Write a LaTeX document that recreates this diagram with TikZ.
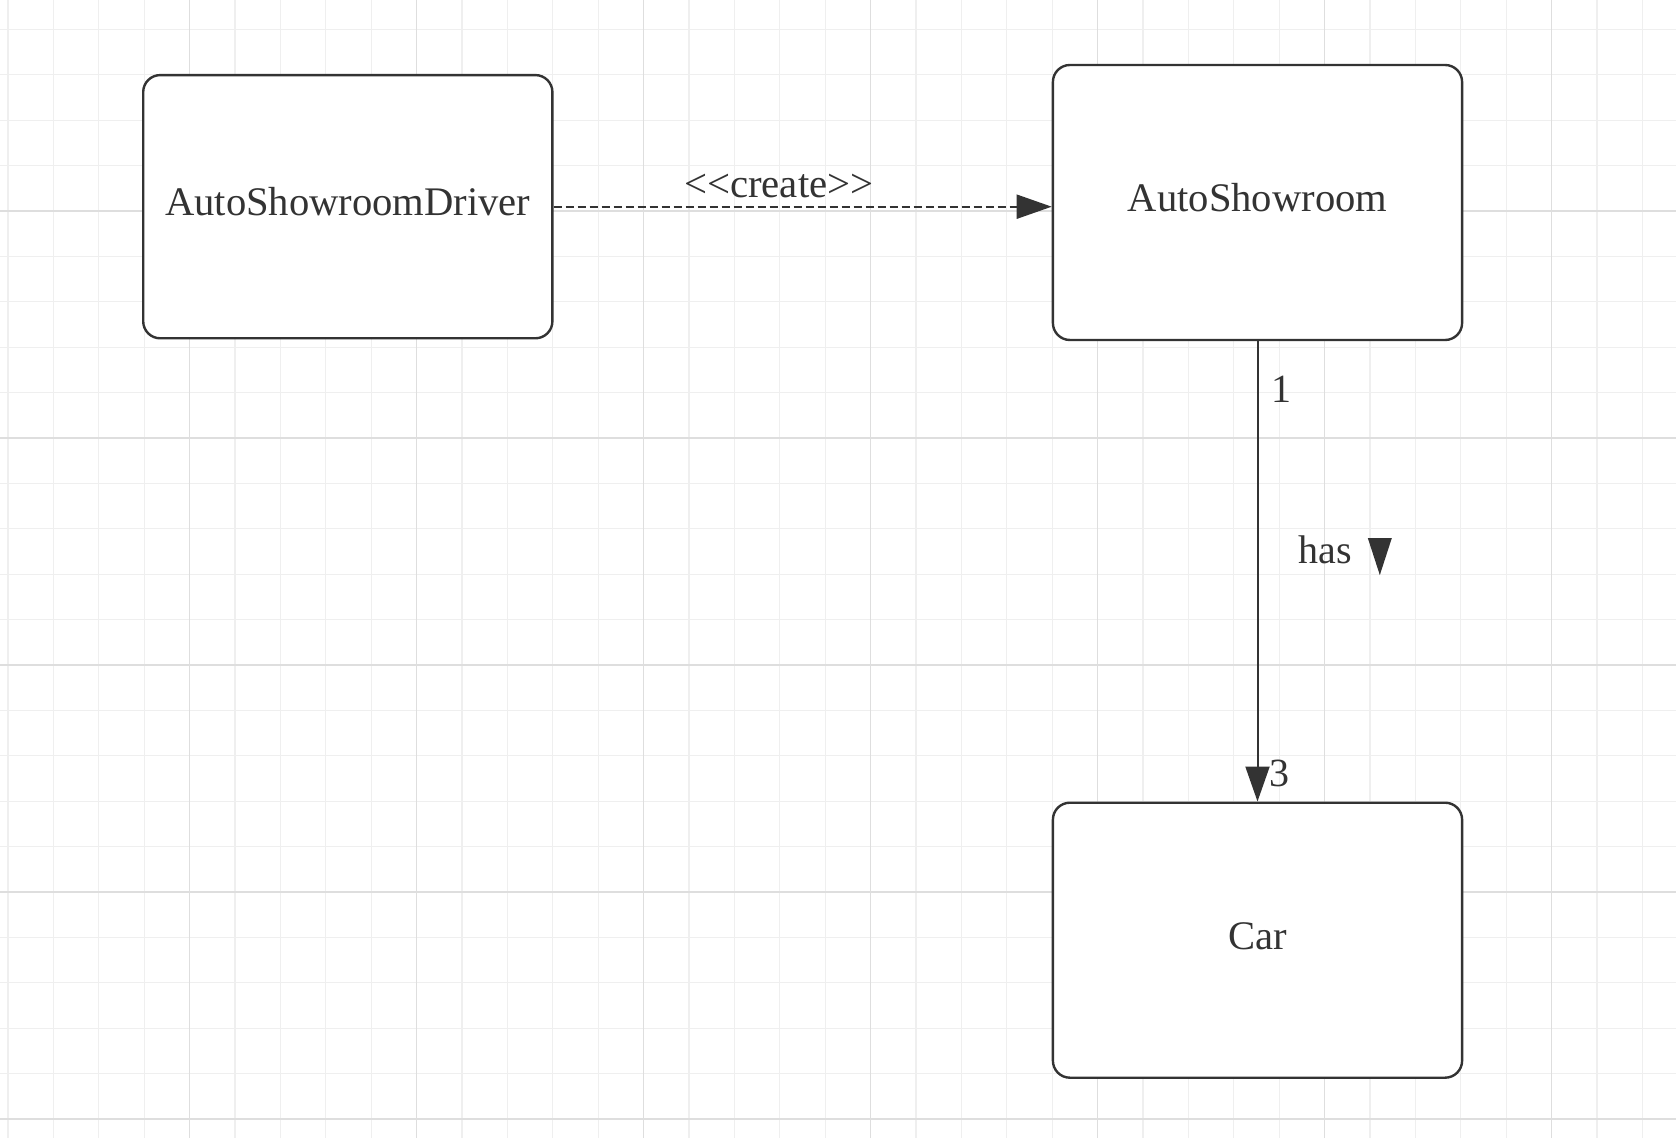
\documentclass[tikz,border=0pt]{standalone}
\usepackage{fontspec}
\setmainfont{Liberation Serif}
\usetikzlibrary{calc, arrows.meta, positioning}

\definecolor{ink}{HTML}{333333}
\definecolor{gridminor}{HTML}{EFEFEF}
\definecolor{gridmajor}{HTML}{DEDEDE}

\begin{document}
\begin{tikzpicture}[x=0.5pt, y=-0.5pt,
   classbox/.style = {draw=ink, line width=1.2pt, rounded corners=8.5pt, fill=white,
      minimum width=204.6pt, text=ink, font=\fontsize{20.3}{24}\selectfont,
      text height=14pt, text depth=5pt},
   mult/.style = {text=ink, inner sep=0pt, font=\fontsize{20}{24}\selectfont},
   assoc/.style = {draw=ink, line width=1pt, -{Triangle[length=17.5pt, width=12pt]}}]
   \useasboundingbox[fill=white] (0,0) rectangle (1676,1138);

   % grid
   \foreach \i in {0,...,36}
      \draw[gridminor, line width=0.6pt] ({7.9+45.4*\i},0) -- ({7.9+45.4*\i},1138);
   \foreach \j in {0,...,24}
      \draw[gridminor, line width=0.6pt] (0,{29.4+45.4*\j}) -- (1676,{29.4+45.4*\j});
   \foreach \i in {4,9,...,34}
      \draw[gridmajor, line width=0.7pt] ({7.9+45.4*\i},0) -- ({7.9+45.4*\i},1138);
   \foreach \j in {4,9,...,24}
      \draw[gridmajor, line width=0.7pt] (0,{29.4+45.4*\j}) -- (1676,{29.4+45.4*\j});

   \node[classbox, minimum height=131.6pt] (driver)   at (347.8,206.7)  {AutoShowroomDriver};
   \node[classbox, minimum height=137.5pt] (showroom) at (1257.5,202.5) {AutoShowroom};
   \node[classbox, minimum height=137.5pt] (car)      at (1257.5,940.2) {Car};

   \draw[assoc, dash pattern=on 4pt off 2pt] (driver) -- (showroom.west |- driver)
      node[mult, pos=0.452, above, inner sep=4pt, font=\fontsize{20.4}{24}\selectfont]
      {<\kern0pt<create>\kern0pt>};
   %
   \draw[assoc] (showroom) -- (car)
      node[mult, pos=0.105, right=6.5pt] {1}
      node[mult, pos=0.482, anchor=base west, xshift=20pt] (has) {has}
      node[mult, pos=0.94, right=5.5pt] {3};
   \fill[ink] ($(has.base east)+(15,-25)$) -- ++(24,0) -- ($(has.base east)+(27,12)$) -- cycle;
\end{tikzpicture}
\end{document}
